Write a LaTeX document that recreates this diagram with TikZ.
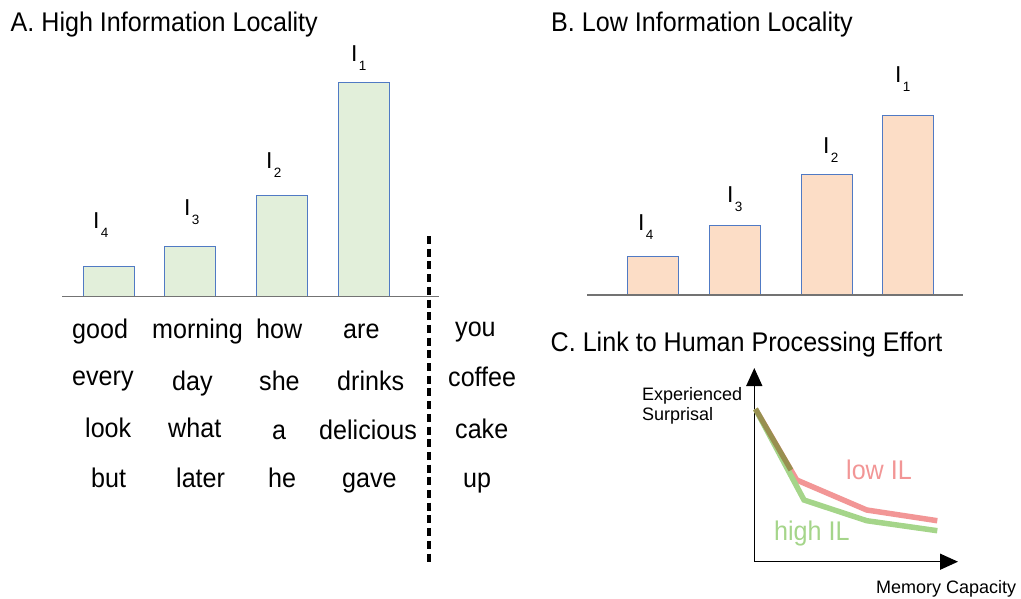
\documentclass[tikz,border=0pt]{standalone}
\usepackage{fontspec}
\setmainfont{Liberation Sans}
\newfontfamily\bigfont{Liberation Sans}[FakeStretch=0.93]
\usetikzlibrary{arrows.meta,calc}
\definecolor{barA}{RGB}{226,239,218}
\definecolor{barB}{RGB}{252,221,198}
\definecolor{barEdge}{RGB}{80,122,196}
\definecolor{lowIL}{RGB}{242,150,150}
\definecolor{highIL}{RGB}{165,213,138}
\definecolor{overlap}{RGB}{152,144,80}
\definecolor{axisgray}{RGB}{115,115,115}
\tikzset{
  word/.style={anchor=base west, inner sep=0pt, font=\bigfont\fontsize{27}{30}\selectfont},
  paneltitle/.style={anchor=base west, inner sep=0pt, font=\bigfont\fontsize{27}{30}\selectfont},
  lab/.style={anchor=base west, inner sep=0pt, font=\fontsize{23}{26}\selectfont},
  small/.style={anchor=base west, inner sep=0pt, font=\fontsize{18}{21}\selectfont},
  barbox/.style={draw=barEdge, line width=0.9pt},
  baseaxis/.style={draw=axisgray, line width=1.3pt},
  plotaxis/.style={draw=black, line width=1.4pt, -{Triangle[length=18pt,width=16pt]}},
  curve/.style={line width=5.5pt, line join=miter}
}
\newcommand{\ilab}[1]{I\hspace{1.2pt}\raisebox{-8.5pt}{\fontsize{13.5}{14}\selectfont #1}}
\begin{document}
\begin{tikzpicture}[x=1pt,y=-1pt]
\useasboundingbox (0,0) rectangle (1021,598);

% ---------- Panel A ----------
\node[paneltitle] (tA) at (10.5,31.5) {A. High Information Locality};
\fill[barA] (83.3,296.5) rectangle (134.3,266.7);
\draw[barbox] (83.3,296.5) rectangle (134.3,266.7);
\fill[barA] (164.3,296.5) rectangle (215.7,246);
\draw[barbox] (164.3,296.5) rectangle (215.7,246);
\fill[barA] (256.3,296.5) rectangle (307.3,195);
\draw[barbox] (256.3,296.5) rectangle (307.3,195);
\fill[barA] (338.3,296.5) rectangle (389.3,82.7);
\draw[barbox] (338.3,296.5) rectangle (389.3,82.7);
\draw[baseaxis] (62,296.5) -- (439,296.5);
\draw[line width=4.3pt, dash pattern=on 8pt off 4.7pt] (429.3,236) -- (429.3,563);

\node[lab] (a4) at (93,228.5) {\ilab{4}};
\node[lab] (a3) at (184,215.5) {\ilab{3}};
\node[lab] (a2) at (266,168.5) {\ilab{2}};
\node[lab] (a1) at (351,61.5) {\ilab{1}};

\node[word] (w11) at (72,338) {good};
\node[word] (w12) at (152,338) {morning};
\node[word] (w13) at (256,338) {how};
\node[word] (w14) at (343,338) {are};
\node[word] (w15) at (455,336) {you};
\node[word] (w21) at (72,385) {every};
\node[word] (w22) at (172,390) {day};
\node[word] (w23) at (259,390) {she};
\node[word] (w24) at (337,390) {drinks};
\node[word] (w25) at (448,386) {coffee};
\node[word] (w31) at (85,437) {look};
\node[word] (w32) at (168,437) {what};
\node[word] (w33) at (272,439) {a};
\node[word] (w34) at (319,439) {delicious};
\node[word] (w35) at (455,438) {cake};
\node[word] (w41) at (91,487) {but};
\node[word] (w42) at (176,487) {later};
\node[word] (w43) at (268,487) {he};
\node[word] (w44) at (342,487) {gave};
\node[word] (w45) at (463,487) {up};

% ---------- Panel B ----------
\node[paneltitle] (tB) at (551,31.5) {B. Low Information Locality};
\fill[barB] (627.7,295) rectangle (678.7,256);
\draw[barbox] (627.7,295) rectangle (678.7,256);
\fill[barB] (709.3,295) rectangle (760.3,225.3);
\draw[barbox] (709.3,295) rectangle (760.3,225.3);
\fill[barB] (801,295) rectangle (852,174.3);
\draw[barbox] (801,295) rectangle (852,174.3);
\fill[barB] (882.7,295) rectangle (933.3,115);
\draw[barbox] (882.7,295) rectangle (933.3,115);
\draw[baseaxis] (587,295) -- (963,295);

\node[lab] (b4) at (638,230.5) {\ilab{4}};
\node[lab] (b3) at (727,202.5) {\ilab{3}};
\node[lab] (b2) at (823,153.5) {\ilab{2}};
\node[lab] (b1) at (895,82.5) {\ilab{1}};

% ---------- Panel C ----------
\node[paneltitle] (tC) at (550.5,351.5) {C. Link to Human Processing Effort};
\coordinate (O) at (754.3,561.7);
\coordinate (ytip) at (754.3,368);
\coordinate (xtip) at (958,561.7);
\draw[plotaxis] (O) -- (ytip);
\draw[plotaxis] (O) -- (xtip);

\coordinate (s) at (755.5,409);
\coordinate (r1) at (796.7,480);
\coordinate (r2) at (866.7,510);
\coordinate (r3) at (937.3,520.7);
\coordinate (g1) at (804,500);
\coordinate (g2) at (866.7,520.7);
\coordinate (g3) at (937.3,530.7);
\draw[curve, lowIL] (s) -- (r1) -- (r2) -- (r3);
\draw[curve, highIL] (s) -- (g1) -- (g2) -- (g3);
\draw[line width=5.2pt, overlap] (s) -- ($(s)!0.86!(r1)$);

\node[small] (ylab1) at (642,400.5) {Experienced};
\node[small] (ylab2) at (642,420) {Surprisal};
\node[small] (xlab) at (876,593) {Memory Capacity};
\node[word, text=lowIL] (low) at (846,479) {low IL};
\node[word, text=highIL] (high) at (774,540) {high IL};
\end{tikzpicture}
\end{document}
